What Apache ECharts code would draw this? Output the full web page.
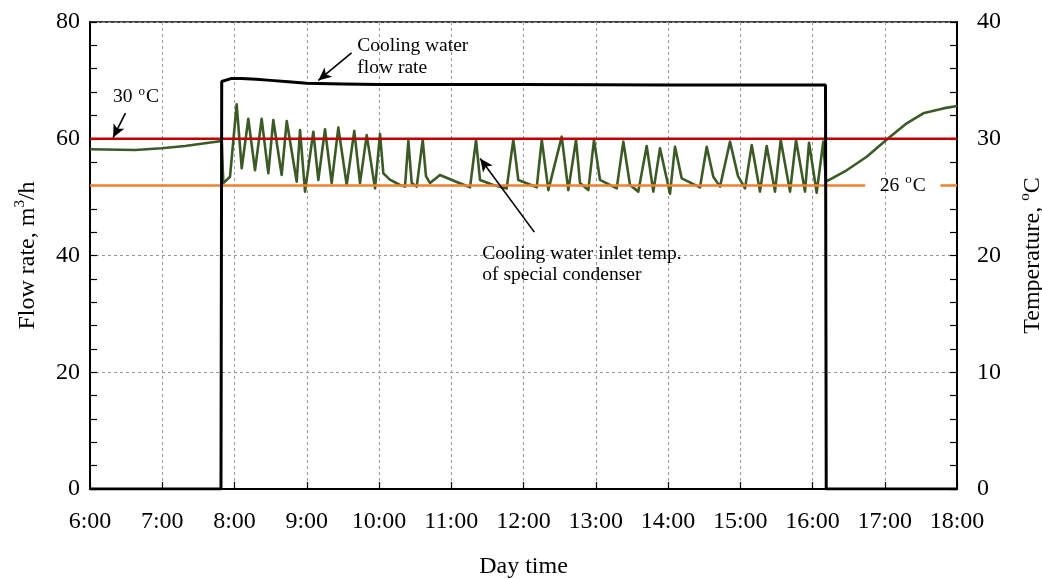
<!DOCTYPE html>
<html><head><meta charset="utf-8">
<script src="https://cdn.jsdelivr.net/npm/echarts@6/dist/echarts.min.js"></script>
<style>html,body{margin:0;padding:0;background:#fff}#c{width:1042px;height:579px}</style>
</head><body><div id="c"></div>
<script>
// ---- data (hours of day, decimal) ----
const xMin = 6, xMax = 18;
const flowHours  = [6.0, 7.813, 7.823, 7.95, 8.1, 8.3, 8.5, 8.7, 9.0, 9.5, 10.0, 12.0, 14.0, 16.18, 16.19, 18.0];
const flowValues = [0, 0, 69.8, 70.3, 70.3, 70.2, 70.0, 69.8, 69.5, 69.4, 69.3, 69.3, 69.2, 69.2, 0, 0];

const tempHours = [6.000, 6.623, 6.992, 7.315, 7.592, 7.823, 7.845, 7.938, 8.030, 8.100, 8.191, 8.284, 8.376, 8.468,
  8.537, 8.653, 8.723, 8.861, 8.907, 8.976, 9.091, 9.160, 9.253, 9.345, 9.437, 9.553, 9.658, 9.737, 9.830, 9.945,
  10.014, 10.060, 10.150, 10.291, 10.360, 10.406, 10.453, 10.522, 10.605, 10.650, 10.706, 10.844, 11.075, 11.260,
  11.343, 11.398, 11.582, 11.767, 11.859, 11.928, 12.183, 12.253, 12.344, 12.529, 12.620, 12.727, 12.782, 12.897,
  12.976, 13.059, 13.290, 13.382, 13.474, 13.589, 13.705, 13.797, 13.889, 14.028, 14.097, 14.190, 14.443, 14.536,
  14.627, 14.720, 14.858, 14.969, 15.066, 15.159, 15.273, 15.366, 15.481, 15.560, 15.689, 15.772, 15.896, 15.952,
  16.058, 16.149, 16.187, 16.473, 16.750, 17.049, 17.304, 17.533, 17.810, 18.000];
const tempValues = [29.10, 29.04, 29.18, 29.38, 29.61, 29.80, 26.20, 26.75, 32.95, 27.47, 31.70, 27.30, 31.70, 27.04,
  31.60, 26.90, 31.52, 26.32, 30.75, 25.47, 30.60, 26.47, 30.81, 26.20, 30.95, 26.04, 30.67, 26.20, 30.31, 25.75,
  30.41, 27.04, 26.50, 26.04, 25.90, 29.81, 26.20, 25.90, 29.90, 26.80, 26.20, 26.90, 26.30, 25.84,
  29.90, 26.47, 26.04, 25.75, 29.90, 26.47, 25.84, 29.90, 25.60, 30.18, 25.60, 29.90, 26.20, 25.60,
  29.90, 26.47, 25.75, 29.75, 26.04, 25.47, 29.38, 25.47, 29.18, 25.30, 29.32, 26.60, 25.84, 29.32,
  26.75, 25.90, 29.75, 26.80, 25.75, 29.46, 25.47, 29.38, 25.47, 29.90, 25.47, 29.90, 25.47, 29.66,
  25.38, 29.75, 26.32, 27.30, 28.46, 30.04, 31.32, 32.18, 32.60, 32.80];

const limitHigh = 30;           // °C
const limitLow = 26;            // °C
const lowLabelGap = [16.73, 17.77]; // gap in 26 °C line around its label

// annotation anchors (data coordinates)
const flowTextPos = [9.70, 74.0];
const flowArrow = [[9.62, 74.7], [9.16, 70.0]];
const highTextPos = [6.32, 33.6];
const highArrow = [[6.49, 32.2], [6.32, 30.1]];
const lowTextPos = [17.25, 26.0];
const inletTextPos = [11.43, 19.2];
const inletArrow = [[12.15, 22.0], [11.40, 28.3]];

// ---- build ----
const F = 'Liberation Serif';
const TICK = 24, NAME = 24, ANN = 19.5;
const pair = (xs, ys) => xs.map((x, i) => [x, ys[i]]);
const flowData = pair(flowHours, flowValues);
const tempData = pair(tempHours, tempValues);
const highData = [[xMin, limitHigh], [xMax, limitHigh]];
const lowData = [[xMin, limitLow], [lowLabelGap[0], limitLow], [null, null], [lowLabelGap[1], limitLow], [xMax, limitLow]];

const txt = {color: '#000', fontFamily: F, fontSize: ANN};
const supRich = {
  n: {fontFamily: F, fontSize: ANN, color: '#000', lineHeight: 24},
  s: {fontFamily: F, fontSize: 13, color: '#000', lineHeight: 24, verticalAlign: 'top', padding: [0, 1, 0, 1]}
};
const nameRich = {
  n: {fontFamily: F, fontSize: NAME, color: '#000', lineHeight: 30},
  s: {fontFamily: F, fontSize: 15, color: '#000', lineHeight: 30, verticalAlign: 'top'}
};
const arrowLine = (seg) => ({
  silent: true, symbol: ['none', 'arrow'], symbolSize: [9, 13],
  label: {show: false}, lineStyle: {color: '#000', width: 1.6, type: 'solid'},
  data: [[{coord: seg[0]}, {coord: seg[1]}]], animation: false
});

const chart = echarts.init(document.getElementById('c'));
chart.setOption({
  animation: false,
  backgroundColor: '#fff',
  grid: {left: 90, right: 85, top: 22, bottom: 90, outerBoundsMode: 'none', containLabel: false,
    show: true, borderColor: '#000', borderWidth: 1.5, backgroundColor: 'transparent'},
  xAxis: {
    type: 'value', min: xMin, max: xMax, interval: 1,
    name: 'Day time', nameLocation: 'middle', nameGap: 66,
    nameTextStyle: {fontFamily: F, fontSize: NAME, color: '#000'},
    axisLine: {lineStyle: {color: '#000', width: 2}},
    axisTick: {inside: true, length: 7, lineStyle: {color: '#000', width: 1.2}},
    axisLabel: {margin: 21, fontFamily: F, fontSize: TICK, color: '#000', formatter: v => Math.round(v) + ':00'},
    splitLine: {show: true, lineStyle: {color: '#999', type: [3, 3], width: 1}}
  },
  yAxis: [{
    type: 'value', min: 0, max: 80, interval: 20, position: 'left',
    name: '{n|Flow rate, m}{s|3}{n|/h}', nameLocation: 'middle', nameGap: 47, nameRotate: 90,
    nameTextStyle: {rich: nameRich},
    axisLine: {show: true, lineStyle: {color: '#000', width: 2}},
    axisTick: {inside: true, length: 7, lineStyle: {color: '#000', width: 1.2}},
    minorTick: {show: true, splitNumber: 5, length: 7, lineStyle: {color: '#000', width: 1.2}},
    axisLabel: {margin: 10, fontFamily: F, fontSize: TICK, color: '#000'},
    splitLine: {show: true, lineStyle: {color: '#999', type: [3, 3], width: 1}}
  }, {
    type: 'value', min: 0, max: 40, interval: 10, position: 'right',
    name: '{n|Temperature, }{s|o}{n|C}', nameLocation: 'middle', nameGap: 61, nameRotate: 90,
    nameTextStyle: {rich: nameRich},
    axisLine: {show: true, lineStyle: {color: '#000', width: 2}},
    axisTick: {inside: true, length: 7, lineStyle: {color: '#000', width: 1.2}},
    minorTick: {show: true, splitNumber: 5, length: 7, lineStyle: {color: '#000', width: 1.2}},
    axisLabel: {margin: 20, fontFamily: F, fontSize: TICK, color: '#000'},
    splitLine: {show: false}
  }],
  series: [{
    name: 'Inlet temp', type: 'line', yAxisIndex: 1, data: tempData, showSymbol: false, z: 3,
    lineStyle: {color: '#3b5a25', width: 2.6, join: 'round'},
    markLine: arrowLine(inletArrow),
    markPoint: {symbolSize: 0, silent: true, data: [
      {coord: inletTextPos, label: {show: true, position: 'right', distance: 0, align: 'left', verticalAlign: 'middle',
        formatter: 'Cooling water inlet temp.\nof special condenser', lineHeight: 21, ...txt}},
      {coord: lowTextPos, label: {show: true, position: 'inside', align: 'center', verticalAlign: 'middle',
        formatter: '{n|26 }{s|o}{n|C}', rich: supRich}}
    ]}
  }, {
    name: '30 °C', type: 'line', yAxisIndex: 1, data: highData, showSymbol: false, z: 4,
    lineStyle: {color: '#c00000', width: 2.6},
    markLine: arrowLine(highArrow),
    markPoint: {symbolSize: 0, silent: true, data: [
      {coord: highTextPos, label: {show: true, position: 'right', distance: 0, align: 'left', verticalAlign: 'middle',
        formatter: '{n|30 }{s|o}{n|C}', rich: supRich}}
    ]}
  }, {
    name: '26 °C', type: 'line', yAxisIndex: 1, data: lowData, showSymbol: false, z: 4, connectNulls: false,
    lineStyle: {color: '#f0822f', width: 2.6}
  }, {
    name: 'Flow rate', type: 'line', yAxisIndex: 0, data: flowData, showSymbol: false, z: 5,
    lineStyle: {color: '#000', width: 3},
    markLine: arrowLine(flowArrow),
    markPoint: {symbolSize: 0, silent: true, data: [
      {coord: flowTextPos, label: {show: true, position: 'right', distance: 0, align: 'left', verticalAlign: 'middle',
        formatter: 'Cooling water\nflow rate', lineHeight: 22, ...txt}}
    ]}
  }]
});
</script>
</body></html>
